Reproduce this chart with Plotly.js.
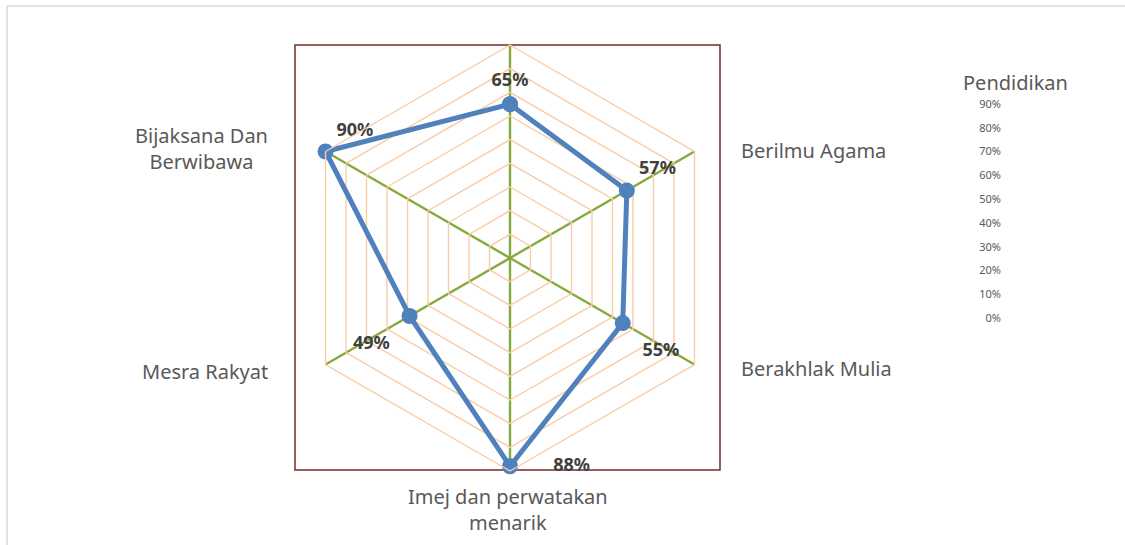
<!DOCTYPE html>
<html>
<head>
<meta charset="utf-8">
<script src="https://cdn.plot.ly/plotly-3.0.1.min.js"></script>
<style>
  html, body { margin: 0; padding: 0; background: #fff; }
  #chart { width: 1125px; height: 545px; }
</style>
</head>
<body>
<div id="chart"></div>
<script>
// ---- data ----
const categoryLabels = ['Pendidikan', 'Berilmu Agama', 'Berakhlak Mulia', 'Imej dan perwatakan<br>menarik', 'Mesra Rakyat', 'Bijaksana Dan<br>Berwibawa'];
const categories = categoryLabels.map(s => s.replace('<br>', ' '));
const values = [0.65, 0.57, 0.55, 0.88, 0.49, 0.90];
const valueLabels = ['65%', '57%', '55%', '88%', '49%', '90%'];
const axisTickValues = [0, 0.1, 0.2, 0.3, 0.4, 0.5, 0.6, 0.7, 0.8, 0.9];
const axisTickLabels = ['0%', '10%', '20%', '30%', '40%', '50%', '60%', '70%', '80%', '90%'];

// ---- styling ----
const W = 1125, H = 545;
const px = x => x / W;
const py = y => 1 - y / H;
const FONT = '"Noto Sans", "Open Sans", sans-serif';
const labelFont = { family: FONT, size: 20, color: '#595959' };
const textPositions = ['top center', 'top right', 'bottom right', 'middle right', 'bottom left', 'top right'];
const textPad = [20, 18, 30, 30, 30, 16];

const closedTheta = categories.concat([categories[0]]);
const closedR = values.concat([values[0]]);

const traces = [
  {
    type: 'scatterpolar',
    r: closedR,
    theta: closedTheta,
    mode: 'lines+markers',
    line: { color: '#4f81bd', width: 5 },
    marker: { color: '#4f81bd', size: 16 },
    hoverinfo: 'skip',
    showlegend: false
  },
  {
    type: 'scatterpolar',
    r: values,
    theta: categories,
    mode: 'markers+text',
    marker: { size: textPad, opacity: 0 },
    text: valueLabels.map((t, i) => i === 3 ? '\u00a0\u00a0\u00a0\u00a0\u00a0' + t : t),
    textposition: textPositions,
    textfont: { family: FONT, size: 18, color: '#404040', weight: 'bold' },
    hoverinfo: 'skip',
    showlegend: false
  },
  {
    type: 'scatter',
    x: [0], y: [0],
    mode: 'markers',
    marker: { opacity: 0 },
    hoverinfo: 'skip',
    showlegend: false,
    xaxis: 'x', yaxis: 'y'
  }
];

// category label placements (layout only)
const labelPlacement = [
  { x: 1015, y: 82, xanchor: 'center', size: 20 },
  { x: 739, y: 150, xanchor: 'left' },
  { x: 739, y: 368, xanchor: 'left' },
  { x: 508, y: 509, xanchor: 'center' },
  { x: 270, y: 371, xanchor: 'right' },
  { x: 270, y: 148, xanchor: 'right' }
];
const annotations = categoryLabels.map((t, i) => ({
  xref: 'paper', yref: 'paper',
  x: px(labelPlacement[i].x), y: py(labelPlacement[i].y),
  xanchor: labelPlacement[i].xanchor, yanchor: 'middle',
  align: 'center',
  text: t,
  showarrow: false,
  font: Object.assign({}, labelFont, labelPlacement[i].size ? { size: labelPlacement[i].size } : {})
}));

const layout = {
  width: W, height: H,
  margin: { l: 0, r: 0, t: 0, b: 0 },
  paper_bgcolor: '#fff',
  plot_bgcolor: 'rgba(0,0,0,0)',
  showlegend: false,
  polar: {
    domain: { x: [px(297), px(723)], y: [py(471), py(45)] },
    gridshape: 'linear',
    bgcolor: 'rgba(0,0,0,0)',
    radialaxis: {
      range: [0, 0.9],
      dtick: 0.1,
      tick0: 0,
      showticklabels: false,
      ticks: '',
      showline: false,
      gridcolor: '#f9cda6',
      gridwidth: 1.4
    },
    angularaxis: {
      direction: 'clockwise',
      rotation: 90,
      showticklabels: false,
      ticks: '',
      showline: true,
      linecolor: '#f9cda6',
      linewidth: 1.4,
      gridcolor: '#86aa3d',
      gridwidth: 2.4
    }
  },
  xaxis: {
    domain: [px(1002), px(1060)],
    range: [0, 1],
    visible: false,
    fixedrange: true
  },
  yaxis: {
    domain: [py(318), py(104)],
    range: [0, 0.9],
    anchor: 'x',
    side: 'left',
    tickmode: 'array',
    tickvals: axisTickValues,
    ticktext: axisTickLabels,
    ticks: '',
    showgrid: false,
    zeroline: false,
    showline: false,
    tickfont: { family: FONT, size: 11, color: '#595959' },
    fixedrange: true
  },
  annotations: annotations,
  shapes: [
    { type: 'rect', xref: 'paper', yref: 'paper', x0: px(295), x1: px(720), y0: py(470), y1: py(45),
      line: { color: '#772a2a', width: 1.5 }, layer: 'below' },
    { type: 'line', xref: 'paper', yref: 'paper', x0: px(7), x1: px(1125), y0: py(6), y1: py(6),
      line: { color: '#d9d9d9', width: 1.5 }, layer: 'below' },
    { type: 'line', xref: 'paper', yref: 'paper', x0: px(7), x1: px(7), y0: py(6), y1: py(545),
      line: { color: '#d9d9d9', width: 1.5 }, layer: 'below' }
  ]
};

Plotly.newPlot('chart', traces, layout, { displayModeBar: false, staticPlot: true });
</script>
</body>
</html>
